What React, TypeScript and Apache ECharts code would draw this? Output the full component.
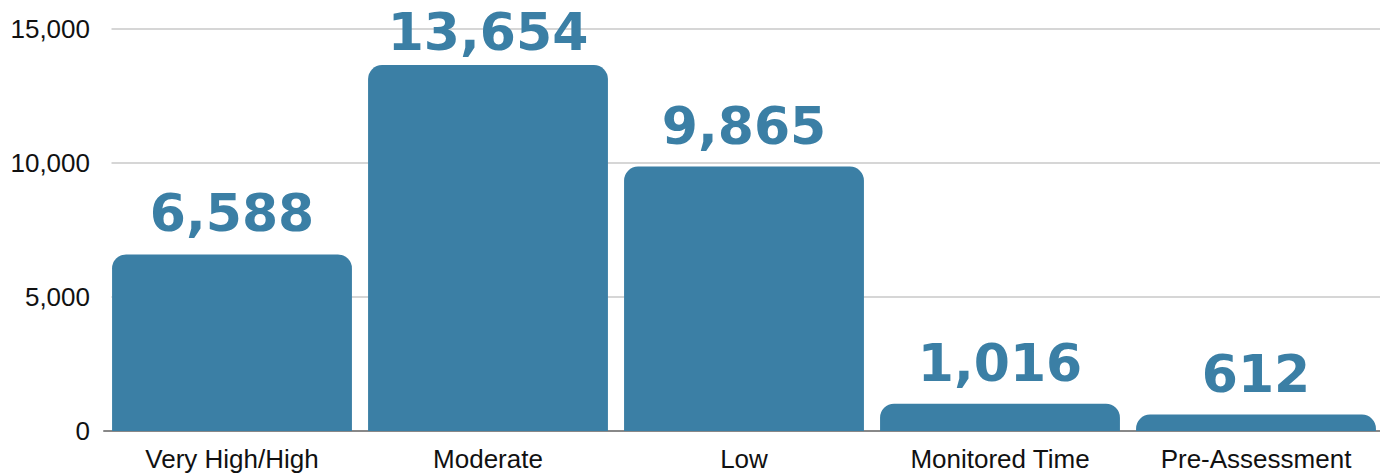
import React, { useEffect, useRef } from "react";
import * as echarts from "echarts";

const categories = ["Very High/High", "Moderate", "Low", "Monitored Time", "Pre-Assessment"];
const values = [6588, 13654, 9865, 1016, 612];
const yTicks = [0, 5000, 10000, 15000];

export default function App() {
  const ref = useRef<HTMLDivElement>(null);
  useEffect(() => {
    const chart = echarts.init(ref.current!, null, { renderer: "svg" });
    chart.setOption({
      animation: false,
      backgroundColor: "#ffffff",
      grid: { left: 104, top: 29, width: 1280, height: 402, containLabel: false },
      xAxis: {
        type: "category",
        data: categories,
        axisTick: { show: false },
        axisLine: { show: true, lineStyle: { color: "#888888", width: 2 } },
        axisLabel: { color: "#111111", fontFamily: "Liberation Sans", fontSize: 26, margin: 15 },
      },
      yAxis: {
        type: "value",
        min: yTicks[0],
        max: yTicks[yTicks.length - 1],
        interval: 5000,
        axisLine: { show: false },
        axisTick: { show: false },
        splitLine: { lineStyle: { color: "#c8c8c8", width: 1.5 } },
        axisLabel: {
          color: "#111111",
          fontFamily: "Liberation Sans",
          fontSize: 26,
          margin: 14,
          formatter: (v: number) => v.toLocaleString("en-US"),
        },
      },
      graphic: [
        {
          type: "rect",
          z: 100,
          shape: { x: 98, y: 0, width: 13.5, height: 426 },
          style: { fill: "#ffffff" },
        },
      ],
      series: [
        {
          type: "bar",
          data: values.map((v, i) =>
            i === 1 ? { value: v, label: { distance: 7 } } : v
          ),
          barCategoryGap: "6.3%",
          itemStyle: { color: "#3b7fa5", borderRadius: [14, 14, 0, 0] },
          label: {
            show: true,
            position: "top",
            distance: 15,
            color: "#3b7fa5",
            fontFamily: "DejaVu Sans",
            fontWeight: "bold",
            fontSize: 52,
            formatter: (p: any) => Number(p.value).toLocaleString("en-US"),
          },
        },
      ],
    });
    return () => chart.dispose();
  }, []);
  return <div ref={ref} style={{ position: "fixed", left: 0, top: 0, width: 1390, height: 474 }} />;
}
